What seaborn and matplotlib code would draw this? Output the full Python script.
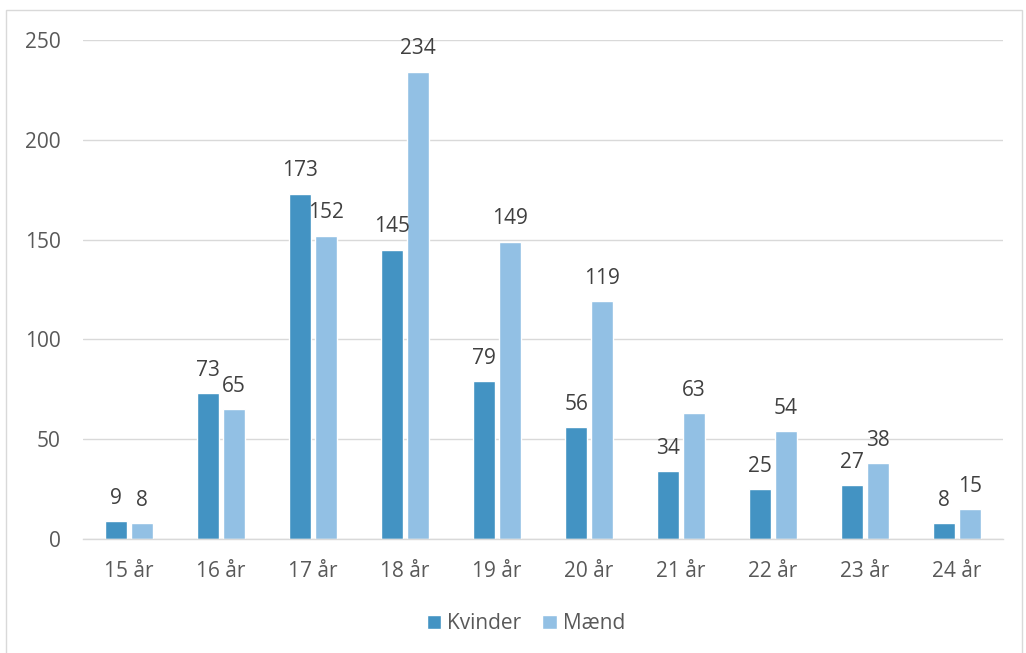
import matplotlib
matplotlib.use("Agg")
import matplotlib.pyplot as plt
import seaborn as sns
import pandas as pd
from matplotlib.patches import Rectangle, Patch

categories = ["15 år", "16 år", "17 år", "18 år", "19 år", "20 år", "21 år", "22 år", "23 år", "24 år"]
kvinder = [9, 73, 173, 145, 79, 56, 34, 25, 27, 8]
maend = [8, 65, 152, 234, 149, 119, 63, 54, 38, 15]
series = ["Kvinder", "Mænd"]
yticks = [0, 50, 100, 150, 200, 250]

df = pd.DataFrame({
    "Alder": categories * 2,
    "Antal": kvinder + maend,
    "Køn": [series[0]] * len(categories) + [series[1]] * len(categories),
})

sns.set_theme(style="white")
plt.rcParams['font.family'] = ['Open Sans', 'DejaVu Sans']

fig = plt.figure(figsize=(10.26, 6.53), dpi=100)
ax = fig.add_axes([0.0809, 0.1746, 0.8967, 0.7641])

palette = {"Kvinder": "#4393c3", "Mænd": "#92c0e4"}
sns.barplot(data=df, x="Alder", y="Antal", hue="Køn", palette=palette,
            width=0.55, gap=0.12, ax=ax, legend=False, saturation=1)

txt = "#595959"
for cont in ax.containers:
    ax.bar_label(cont, padding=9, fontsize=15, color="#404040")

ax.set_ylim(0, 250)
ax.set_xlim(-0.5, len(categories) - 0.5)
ax.set_yticks(yticks)
ax.yaxis.grid(True, color="#d9d9d9", linewidth=1)
ax.set_axisbelow(True)
for s in ["top", "right", "left"]:
    ax.spines[s].set_visible(False)
ax.spines["bottom"].set_color("#d9d9d9")
ax.spines["bottom"].set_linewidth(1)
ax.tick_params(axis="both", length=0, labelsize=15, colors=txt)
ax.tick_params(axis="y", pad=16)
ax.tick_params(axis="x", pad=16)
ax.set_xlabel("")
ax.set_ylabel("")

handles = [Patch(facecolor=palette[s], label=s) for s in series]
fig.legend(handles=handles, loc="center", bbox_to_anchor=(526 / 1026, 0.045), ncol=2,
           frameon=False, fontsize=15, labelcolor=txt, handlelength=0.7,
           handleheight=0.7, handletextpad=0.3, columnspacing=1.0)

fig.patches.append(Rectangle((6 / 1026, -0.01), 1016 / 1026, 1 - 10 / 653 + 0.01,
                             transform=fig.transFigure, fill=False,
                             edgecolor="#d9d9d9", linewidth=1))

fig.savefig("out.png", dpi=100)
